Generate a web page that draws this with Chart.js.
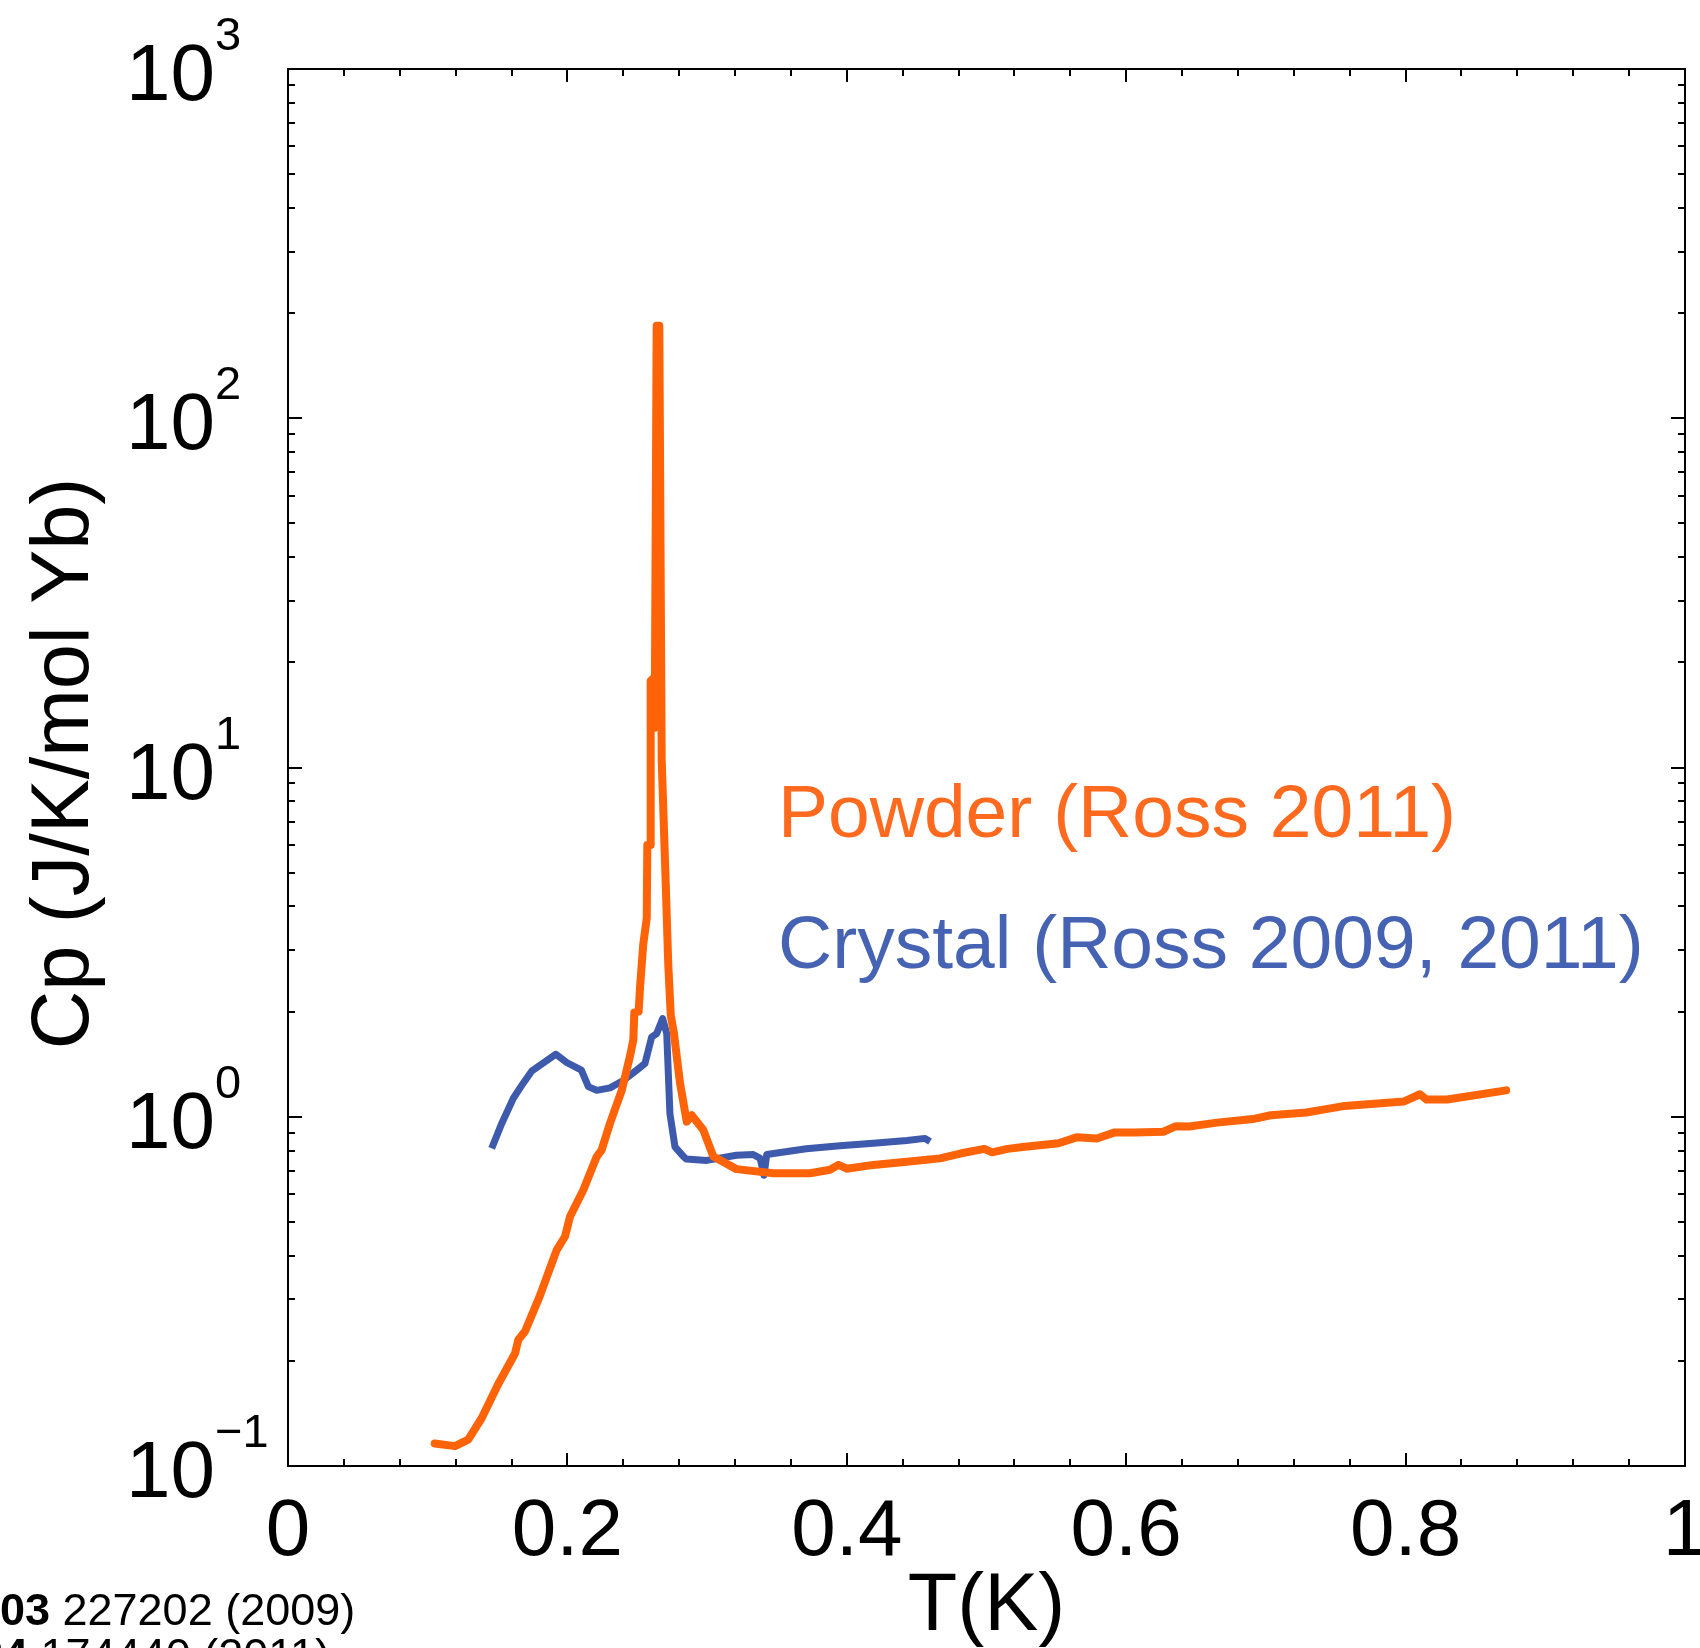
<!DOCTYPE html>
<html>
<head>
<meta charset="utf-8">
<script src="https://cdn.jsdelivr.net/npm/chart.js@4/dist/chart.umd.min.js"></script>
<style>
  html, body { margin: 0; padding: 0; background: #ffffff; }
  #wrap { width: 1700px; height: 1648px; position: relative; }
  canvas { display: block; }
</style>
</head>
<body>
<div id="wrap"><canvas id="c" width="1700" height="1648"></canvas></div>
<script>
// ---------------- data ----------------
const T_POWDER = [0.105, 0.1195, 0.129, 0.1386, 0.1506, 0.1625, 0.1649, 0.1697, 0.180, 0.1923,
  0.1983, 0.2019, 0.2114, 0.2162, 0.221, 0.2245, 0.2305, 0.2389, 0.2448, 0.2472,
  0.2479, 0.2510, 0.2520, 0.2543, 0.2568, 0.2572, 0.2592, 0.2596, 0.2615, 0.2625,
  0.2639, 0.2658, 0.2675, 0.2699, 0.2722, 0.2740, 0.2763, 0.2806, 0.2854, 0.289,
  0.2973, 0.3045, 0.321, 0.3474, 0.3737, 0.388, 0.394, 0.400, 0.419, 0.443,
  0.4667, 0.482, 0.4985, 0.504, 0.515, 0.526, 0.5516, 0.5644, 0.579, 0.5918,
  0.6065, 0.6266, 0.6357, 0.645, 0.665, 0.6906, 0.7034, 0.729, 0.742, 0.7565,
  0.7986, 0.8103, 0.815, 0.8297, 0.872];
const CP_POWDER = [0.116, 0.114, 0.119, 0.137, 0.172, 0.210, 0.230, 0.243, 0.305, 0.415,
  0.454, 0.518, 0.617, 0.689, 0.769, 0.803, 0.958, 1.19, 1.49, 1.66,
  1.99, 2.0, 2.35, 3.12, 3.70, 6.0, 6.0, 17.7, 18.0, 13.0,
  184, 184, 10.5, 5.35, 2.73, 1.95, 1.73, 1.25, 0.968, 1.01,
  0.916, 0.769, 0.708, 0.689, 0.689, 0.705, 0.728, 0.71, 0.728, 0.743,
  0.76, 0.786, 0.809, 0.791, 0.809, 0.819, 0.84, 0.873, 0.866, 0.902,
  0.902, 0.906, 0.94, 0.938, 0.962, 0.985, 1.01, 1.028, 1.05, 1.074,
  1.105, 1.16, 1.12, 1.12, 1.19];

const T_CRYSTAL = [0.1458, 0.153, 0.1613, 0.1685, 0.1744, 0.1918, 0.1995, 0.210, 0.215, 0.221,
  0.2305, 0.240, 0.2496, 0.2555, 0.2603, 0.2639, 0.2682, 0.2711, 0.2734, 0.277,
  0.283, 0.285, 0.2997, 0.321, 0.333, 0.338, 0.3407, 0.3427, 0.371, 0.395,
  0.419, 0.443, 0.456, 0.4596];
const CP_CRYSTAL = [0.812, 0.957, 1.13, 1.25, 1.35, 1.51, 1.43, 1.36, 1.22, 1.19,
  1.21, 1.27, 1.36, 1.42, 1.69, 1.73, 1.91, 1.73, 1.02, 0.82,
  0.77, 0.757, 0.75, 0.776, 0.78, 0.76, 0.68, 0.78, 0.81, 0.826,
  0.84, 0.855, 0.867, 0.85];

const X_TICKS = [0, 0.2, 0.4, 0.6, 0.8, 1];
const X_TICK_LABELS = ['0', '0.2', '0.4', '0.6', '0.8', '1'];
const Y_TICKS = [0.1, 1, 10, 100, 1000];
const Y_TICK_EXPONENTS = ['\u22121', '0', '1', '2', '3'];

const SERIES_NAMES = ['Powder (Ross 2011)', 'Crystal (Ross 2009, 2011)'];
const X_TITLE = 'T(K)';
const Y_TITLE = 'Cp (J/K/mol Yb)';
const CITATIONS = [
  { bold: 'Phys. Rev. Lett. 103', rest: ' 227202 (2009)' },
  { bold: 'Phys. Rev. B 84', rest: ' 174440 (2011)' }
];

// ---------------- styles ----------------
const ORANGE = '#ff6308';
const ORANGE_TEXT = '#ff6a1f';
const BLUE = '#3e5aad';
const BLUE_TEXT = '#4562b3';
const FONT = '"Liberation Sans", Arial, Helvetica, sans-serif';

function pts(xs, ys) { return xs.map((x, i) => ({ x: x, y: ys[i] })); }

const decorPlugin = {
  id: 'decor',
  afterDraw(chart) {
    const ctx = chart.ctx;
    const a = chart.chartArea;
    const xs = chart.scales.x, ys = chart.scales.y;
    ctx.save();
    // frame
    ctx.strokeStyle = '#000';
    ctx.lineWidth = 2;
    ctx.strokeRect(a.left, a.top, a.right - a.left, a.bottom - a.top);
    // x ticks (major 0.2, minor 0.04) on bottom and top, inward
    ctx.beginPath();
    for (let i = 0; i <= 25; i++) {
      const v = i * 0.04;
      const px = Math.round(xs.getPixelForValue(v));
      const len = (i % 5 === 0) ? 13 : 7;
      ctx.moveTo(px, a.bottom); ctx.lineTo(px, a.bottom - len);
      ctx.moveTo(px, a.top); ctx.lineTo(px, a.top + len);
    }
    // y ticks (log) on left and right
    for (let k = -1; k <= 3; k++) {
      for (let m = 1; m <= 9; m++) {
        const v = m * Math.pow(10, k);
        if (v > 1000.0001) break;
        const py = Math.round(ys.getPixelForValue(v));
        const len = (m === 1) ? 14 : 7;
        ctx.moveTo(a.left, py); ctx.lineTo(a.left + len, py);
        ctx.moveTo(a.right, py); ctx.lineTo(a.right - len, py);
      }
    }
    ctx.stroke();

    // x tick labels
    ctx.fillStyle = '#000';
    ctx.font = '80px ' + FONT;
    ctx.textAlign = 'center';
    ctx.textBaseline = 'alphabetic';
    X_TICKS.forEach((v, i) => {
      ctx.fillText(X_TICK_LABELS[i], xs.getPixelForValue(v), 1555);
    });
    // y tick labels: 10^k
    Y_TICKS.forEach((v, i) => {
      const py = ys.getPixelForValue(v);
      ctx.font = '80px ' + FONT;
      ctx.textAlign = 'right';
      ctx.fillText('10', 215, py + 31);
      ctx.font = '47px ' + FONT;
      ctx.textAlign = 'left';
      ctx.fillText(Y_TICK_EXPONENTS[i], 215, py - 19);
    });

    // axis titles
    ctx.font = '81px ' + FONT;
    ctx.textAlign = 'center';
    ctx.fillText(X_TITLE, (a.left + a.right) / 2, 1630);
    ctx.save();
    ctx.translate(88, (a.top + a.bottom) / 2 - 4);
    ctx.rotate(-Math.PI / 2);
    ctx.fillText(Y_TITLE, 0, 0);
    ctx.restore();

    // in-plot legend texts
    ctx.font = '75px ' + FONT;
    ctx.textAlign = 'left';
    ctx.fillStyle = ORANGE_TEXT;
    ctx.fillText(SERIES_NAMES[0], 778, 837);
    ctx.fillStyle = BLUE_TEXT;
    ctx.fillText(SERIES_NAMES[1], 778, 968);

    // citations (partly cut off at left/bottom)
    ctx.fillStyle = '#000';
    const splits = [50, 28];
    const bases = [1625, 1670];
    CITATIONS.forEach((c, i) => {
      ctx.font = '45px ' + FONT;
      ctx.textAlign = 'left';
      ctx.fillText(c.rest, splits[i], bases[i]);
      ctx.font = 'bold 45px ' + FONT;
      ctx.textAlign = 'right';
      ctx.fillText(c.bold, splits[i], bases[i]);
    });
    ctx.restore();
  }
};

new Chart(document.getElementById('c'), {
  type: 'scatter',
  data: {
    datasets: [
      {
        label: SERIES_NAMES[0],
        data: pts(T_POWDER, CP_POWDER),
        showLine: true,
        borderColor: ORANGE,
        backgroundColor: ORANGE,
        borderWidth: 8,
        pointRadius: 0,
        tension: 0,
        borderJoinStyle: 'round',
        borderCapStyle: 'round'
      },
      {
        label: SERIES_NAMES[1],
        data: pts(T_CRYSTAL, CP_CRYSTAL),
        showLine: true,
        borderColor: BLUE,
        backgroundColor: BLUE,
        borderWidth: 7,
        pointRadius: 0,
        tension: 0,
        borderJoinStyle: 'round',
        borderCapStyle: 'butt'
      }
    ]
  },
  options: {
    responsive: false,
    animation: false,
    devicePixelRatio: 1,
    layout: { padding: { left: 288, top: 69, right: 15, bottom: 182 } },
    plugins: { legend: { display: false }, tooltip: { enabled: false }, title: { display: false } },
    scales: {
      x: { type: 'linear', min: 0, max: 1, display: false },
      y: { type: 'logarithmic', min: 0.1, max: 1000, display: false }
    }
  },
  plugins: [decorPlugin]
});
</script>
</body>
</html>
